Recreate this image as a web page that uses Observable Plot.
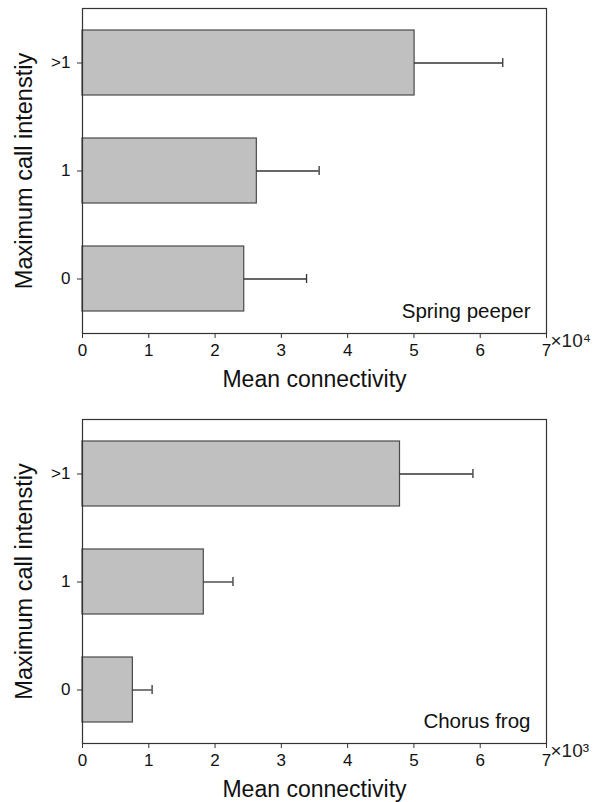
<!DOCTYPE html>
<html>
<head>
<meta charset="utf-8">
<script src="https://cdn.jsdelivr.net/npm/d3@7"></script>
<script src="https://cdn.jsdelivr.net/npm/@observablehq/plot@0.6"></script>
<style>
  html, body { margin: 0; padding: 0; background: #fff; }
  #chart { width: 595px; }
  #chart svg { display: block; overflow: visible; }
</style>
</head>
<body>
<div id="chart"></div>
<script>
// Categories (maximum call intensity), bottom to top
const categories = ["0", "1", ">1"];
// Spring peeper: mean connectivity (×10^4) and upper error bar end
const peeperMean  = [2.44, 2.63, 5.01];
const peeperUpper = [3.38, 3.57, 6.34];
// Chorus frog: mean connectivity (×10^3) and upper error bar end
const chorusMean  = [0.76, 1.83, 4.79];
const chorusUpper = [1.05, 2.27, 5.89];
// X tick labels
const xTicks = [0, 1, 2, 3, 4, 5, 6, 7];
const panelNames = ["Spring peeper", "Chorus frog"];
const exponents = ["×10⁴", "×10³"];
const xLabel = "Mean connectivity";
const yLabel = "Maximum call intenstiy";

function panel(mean, upper, name, exponent, height, marginTop, marginBottom) {
  const rows = categories.map((c, i) => ({cat: c, mean: mean[i], upper: upper[i]}));
  return Plot.plot({
    width: 595,
    height,
    marginTop,
    marginBottom,
    marginLeft: 82,
    marginRight: 49,
    style: {fontFamily: "'Liberation Sans', Arial, Helvetica, sans-serif", fontSize: "17px", color: "#111", background: "#fff", overflow: "visible"},
    x: {domain: [0, 7]},
    y: {type: "band", domain: categories.slice().reverse(), paddingInner: 0.4, paddingOuter: 0.2},
    marks: [
      Plot.barX(rows, {x: "mean", y: "cat", fill: "#c0c0c0", stroke: "#4a4a4a", strokeWidth: 1.2}),
      Plot.ruleY(rows, {y: "cat", x1: "mean", x2: "upper", stroke: "#333", strokeWidth: 1.3}),
      Plot.tickX(rows, {x: "upper", y: "cat", stroke: "#333", strokeWidth: 1.3, insetTop: 28, insetBottom: 28}),
      Plot.frame({stroke: "#333", strokeWidth: 1.2}),
      Plot.axisX({ticks: xTicks, tickFormat: d => String(d), tickSize: 5, tickPadding: 5, fontSize: 17, label: null, stroke: "#333"}),
      Plot.axisY({tickSize: 5, tickPadding: 7, fontSize: 17, label: null, stroke: "#333"}),
      Plot.text([name], {frameAnchor: "bottom-right", text: d => d, dx: -16, dy: -16, fontSize: 20.5, textAnchor: "end", lineAnchor: "bottom", fill: "#111"}),
      Plot.text([exponent], {frameAnchor: "bottom-right", text: d => d, dx: 4, dy: 7, fontSize: 19, textAnchor: "start", lineAnchor: "middle", fill: "#222"}),
      Plot.text([xLabel], {frameAnchor: "bottom", text: d => d, dy: 46, fontSize: 23, textAnchor: "middle", lineAnchor: "middle", fill: "#111"}),
      Plot.text([yLabel], {frameAnchor: "left", text: d => d, dx: -58, rotate: -90, fontSize: 23.5, textAnchor: "middle", lineAnchor: "middle", fill: "#111"})
    ]
  });
}

const chart = document.getElementById("chart");
chart.appendChild(panel(peeperMean, peeperUpper, panelNames[0], exponents[0], 400, 8, 67));
chart.appendChild(panel(chorusMean, chorusUpper, panelNames[1], exponents[1], 402, 19, 59));
</script>
</body>
</html>
